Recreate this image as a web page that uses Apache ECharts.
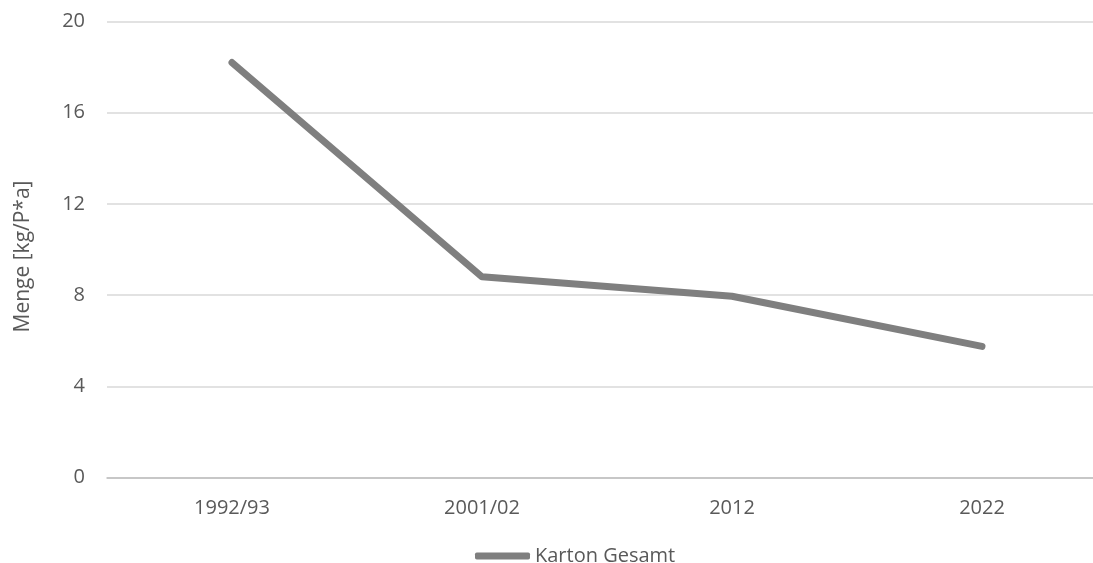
<!DOCTYPE html>
<html>
<head>
<meta charset="utf-8">
<script src="https://cdn.jsdelivr.net/npm/echarts@6/dist/echarts.min.js"></script>
<style>
  html, body { margin: 0; padding: 0; background: #fff; }
  #chart { width: 1093px; height: 563px; }
</style>
</head>
<body>
<div id="chart"></div>
<script>
// Daten
var categories = ["1992/93", "2001/02", "2012", "2022"];
var kartonGesamt = [18.2, 8.8, 7.95, 5.75];
var seriesName = "Karton Gesamt";
var yAxisName = "Menge [kg/P*a]";

var chart = echarts.init(document.getElementById("chart"));
var fontFamily = "'Open Sans', 'Noto Sans', sans-serif";

var option = {
  animation: false,
  grid: {
    left: 107,
    width: 1000,
    top: 21.5,
    height: 456,
    outerBoundsMode: "none",
    containLabel: false
  },
  legend: {
    data: [seriesName],
    top: 541,
    left: 470,
    icon: "roundRect",
    itemWidth: 55,
    itemHeight: 7,
    itemGap: 10,
    textStyle: { fontFamily: fontFamily, fontSize: 20, color: "#595959" }
  },
  xAxis: {
    type: "category",
    data: categories,
    boundaryGap: true,
    axisLine: { lineStyle: { color: "#bfbfbf", width: 1.5 } },
    axisTick: { show: false },
    axisLabel: {
      margin: 21,
      fontFamily: fontFamily,
      fontSize: 20,
      color: "#595959"
    }
  },
  yAxis: {
    type: "value",
    min: 0,
    max: 20,
    interval: 4,
    name: yAxisName,
    nameLocation: "middle",
    nameGap: 73,
    nameTextStyle: {
      fontFamily: fontFamily,
      fontSize: 21,
      color: "#595959",
      padding: [0, 14, 0, 0]
    },
    axisLine: { show: false },
    axisTick: { show: false },
    axisLabel: {
      margin: 22,
      fontFamily: fontFamily,
      fontSize: 20,
      color: "#595959"
    },
    splitLine: { lineStyle: { color: "#d9d9d9", width: 1.5 } }
  },
  series: [
    {
      name: seriesName,
      type: "line",
      data: kartonGesamt,
      symbol: "none",
      itemStyle: { color: "#7f7f7f" },
      lineStyle: { color: "#7f7f7f", width: 7, cap: "round", join: "round" }
    }
  ]
};

chart.setOption(option);
</script>
</body>
</html>
